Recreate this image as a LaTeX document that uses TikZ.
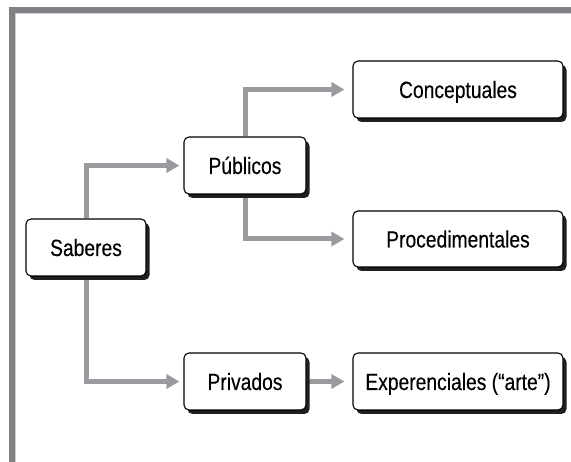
\documentclass[tikz,border=0pt]{standalone}
\usepackage{fontspec}
\setmainfont{Liberation Sans}[FakeStretch=0.82,FakeBold=0.25]
\usetikzlibrary{arrows.meta,shadows,backgrounds}
\definecolor{framegray}{RGB}{128,129,133}
\definecolor{framelight}{RGB}{205,206,208}
\definecolor{linkgray}{RGB}{154,155,158}
\begin{document}
\begin{tikzpicture}[x=1pt,y=-1pt,
  box/.style={draw=black, line width=1.1pt, rounded corners=5pt, fill=white,
    inner sep=0pt, minimum height=57pt, font=\fontsize{23.5}{27}\selectfont,
    text height=17pt, text depth=0pt,
    drop shadow={shadow xshift=3.5pt, shadow yshift=-4pt, fill=black!88, opacity=1}},
  link/.style={color=linkgray, line width=5pt, -{Triangle[length=13pt,width=14pt]}, shorten >=4pt},
  farlink/.style={link, shorten >=8pt}]
\useasboundingbox (0,0) rectangle (571,462);

% outer frame (top and left edges)
\draw[framegray, line width=6pt, line join=miter] (11.7,462) -- (11.7,9.7) -- (571,9.7);
\draw[framelight, line width=1.3pt] (15.3,462) -- (15.3,13.3) -- (571,13.3);

% boxes
\node[box, minimum width=120pt] (sab) at (86,247.5) {Saberes};
\node[box, minimum width=122pt] (pub) at (245,165.5) {Públicos};
\node[box, minimum width=122pt] (pri) at (245,381.5) {Privados};
\node[box, minimum width=210pt] (con) at (458,89.5) {Conceptuales};
\node[box, minimum width=210pt, minimum height=56pt] (pro) at (458,239) {Procedimentales};
\node[box, minimum width=210pt] (exp) at (458,381.5) {Experenciales (“arte”)};

% connectors
\begin{scope}[on background layer]
  \draw[link] (sab.north) |- (pub.west);
  \draw[link] (sab.south) |- (pri.west);
  \draw[farlink] (pub.north) |- (con.west);
  \draw[farlink] (pub.south) |- (pro.west);
  \draw[farlink] (pri.east) -- (exp.west);
\end{scope}
\end{tikzpicture}
\end{document}
